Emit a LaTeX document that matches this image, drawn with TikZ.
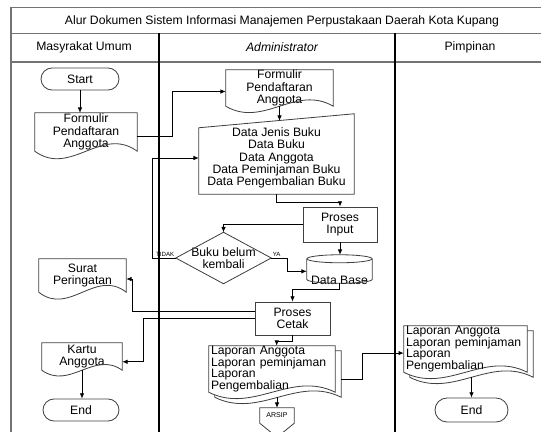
\documentclass[tikz,border=0pt]{standalone}
\usepackage{fontspec}
\setmainfont{Liberation Sans}
\usetikzlibrary{shapes.misc}
\usetikzlibrary{positioning}
\usetikzlibrary{arrows.meta}
\usetikzlibrary{calc}
\usetikzlibrary{backgrounds}
\newcommand{\pxu}{0.03cm}
% document outline: node, shift, wave
\newcommand{\docoutline}[3]{%
  ($(#1.north west)+(#2)$) -- ($(#1.north east)+(#2)$) -- ($(#1.south east)+(#2)$)
  .. controls ($(#1.south east)!0.35!(#1.south west)+(#2)+(0,-#3)$)
  and ($(#1.south east)!0.65!(#1.south west)+(#2)+(0,#3)$) .. ($(#1.south west)+(#2)$) -- cycle}
\tikzset{
    lanebox/.style = {draw=black!55, line width=1pt},
    lanediv/.style = {draw=black, line width=0.9pt},
    lanedivb/.style = {draw=black, line width=1.6pt},
    headfont/.style = {font=\fontsize{10.4}{12}\selectfont},
    shapeline/.style = {draw=black!75, line width=0.7pt},
    termnode/.style = {rounded rectangle, shapeline, inner sep=0pt, font=\fontsize{10.4}{10.5}\selectfont},
    procnode/.style = {rectangle, shapeline, inner sep=0pt, align=center, font=\fontsize{10.4}{10.5}\selectfont},
    docnode/.style = {rectangle, inner sep=0pt, align=center, font=\fontsize{10.4}{10.5}\selectfont},
    multidoc/.style = {rectangle, inner ysep=0pt, inner xsep=2*\pxu, align=left, font=\fontsize{10.4}{10}\selectfont},
    lbl/.style = {font=\fontsize{5.2}{6}\selectfont, inner sep=1pt},
    edgen/.style = {-{Latex[length=4.5pt,width=3.8pt]}, line width=0.7pt}
}
\begin{document}
\begin{tikzpicture}[x=\pxu, y=-\pxu]
  \useasboundingbox (0,0) rectangle (541,432);
  % frame and lanes
  \draw[lanebox] (11,432) -- (11,7.5) -- (541,7.5);
  \draw[lanebox] (11,33.5) -- (541,33.5);
  \draw[lanebox] (11,62) -- (541,62);
  \draw[lanediv] (159,33.5) -- (159,432);
  \draw[lanedivb] (395,33.5) -- (395,432);
  \node[headfont] (title) at (282,21) {Alur Dokumen Sistem Informasi Manajemen Perpustakaan Daerah Kota Kupang};
  \node[headfont] (hmu) at (84,47.5) {Masyrakat Umum};
  \node[headfont] (had) at (282,47.5) {\itshape Administrator};
  \node[headfont] (hpi) at (470,47.5) {Pimpinan};

  % Masyrakat Umum
  \node[termnode, minimum width=78*\pxu, minimum height=22*\pxu] (start) at (80,79) {Start};
  \node[docnode, minimum width=102*\pxu, minimum height=38*\pxu] (fm1) at (86,132) {Formulir\\Pendaftaran\\Anggota};
  \node[docnode, minimum width=87*\pxu, minimum height=33*\pxu] (surat) at (82.5,275.5) {Surat\\Peringatan};
  \node[docnode, minimum width=80*\pxu, minimum height=27*\pxu] (kartu) at (82,356.5) {Kartu\\Anggota};
  \node[termnode, minimum width=76*\pxu, minimum height=22*\pxu] (end1) at (81,410) {End};

  % Administrator
  \node[docnode, minimum width=107*\pxu, minimum height=36*\pxu] (fm2) at (279.5,88) {Formulir\\Pendaftaran\\Anggota};
  \node[docnode, minimum width=155*\pxu, minimum height=72*\pxu] (data) at (276.5,158)
    {Data Jenis Buku\\Data Buku\\Data Anggota\\Data Peminjaman Buku\\Data Pengembalian Buku};
  \node[procnode, minimum width=74*\pxu, minimum height=35*\pxu] (pin) at (340,224.5) {Proses\\Input};
  \node[docnode, minimum width=95*\pxu, minimum height=51*\pxu] (dec) at (223.5,258) {Buku belum\\kembali};
  \node[docnode, minimum width=65*\pxu, minimum height=28*\pxu,
        label={[docnode, anchor=south, inner sep=1pt, yshift=-2.5pt]south:Data Base}] (db) at (339.5,269) {};
  \node[procnode, minimum width=75*\pxu, minimum height=33*\pxu] (pct) at (292.5,318.5) {Proses\\Cetak};
  \node[multidoc, text width=122*\pxu, minimum height=40*\pxu] (lap2) at (272,369)
    {Laporan Anggota\\Laporan peminjaman\\Laporan\\Pengembalian};
  \node[docnode, minimum width=34*\pxu, minimum height=15*\pxu, font=\fontsize{6}{7}\selectfont] (arsip) at (277,415.5) {ARSIP};

  % Pimpinan
  \node[multidoc, text width=119*\pxu, minimum height=40*\pxu] (lap3) at (465.5,349)
    {Laporan Anggota\\Laporan peminjaman\\Laporan\\Pengembalian};
  \node[termnode, minimum width=73*\pxu, minimum height=24*\pxu] (end3) at (471.5,410) {End};

  % outlines
  \draw[shapeline] \docoutline{fm1}{0,0}{26};
  \draw[shapeline] \docoutline{surat}{0,0}{24};
  \draw[shapeline] \docoutline{kartu}{0,0}{20};
  \draw[shapeline] \docoutline{fm2}{0,0}{22};
  \draw[shapeline] (data.south west) -- ($(data.north west)+(0,6)$) -- ($(data.north east)+(0,-8)$) -- (data.south east) -- cycle;
  \draw[shapeline] (dec.north) -- (dec.east) -- (dec.south) -- (dec.west) -- cycle;
  \draw[shapeline] ($(db.north west)+(0,4)$) -- ($(db.south west)+(0,-4)$)
    .. controls +(0,5.33) and +(0,5.33) .. ($(db.south east)+(0,-4)$) -- ($(db.north east)+(0,4)$);
  \draw[shapeline] ($(db.north)+(0,4)$) ellipse [x radius=32.5, y radius=4];
  \draw[shapeline] (arsip.north west) -- (arsip.north east) -- (arsip.south east)
    -- ($(arsip.south)+(0,14)$) -- (arsip.south west) -- cycle;
  \begin{pgfonlayer}{background}
    \draw[shapeline, fill=white] \docoutline{lap2}{6,5}{22};
    \draw[shapeline, fill=white] \docoutline{lap2}{0,0}{22};
    \draw[shapeline, fill=white] \docoutline{lap3}{6,5}{22};
    \draw[shapeline, fill=white] \docoutline{lap3}{0,0}{22};
  \end{pgfonlayer}

  % connectors
  \draw[edgen] (start.south) -- (start.south |- fm1.north);
  \draw[edgen] ([yshift=-4pt]fm1.east) -- ++(35,0) |- ([yshift=-3pt]fm2.west);
  \draw[edgen] (fm2.south) -- ($(fm2.south |- data.north)+(0,-1)$);
  \draw[edgen] (data.south) -- ++(0,8) -| (pin.north);
  \draw[edgen] (pin.west) -| (dec.north);
  \draw[edgen] (pin.south) -- (pin.south |- db.north);
  \draw[edgen] (dec.east) node[lbl, anchor=south west] (ya) {YA} -- ++(16,0) |- ([yshift=-2pt]db.west);
  \draw[edgen] (dec.west) node[lbl, anchor=south east] (tidak) {TIDAK} -- ++(-23,0) |- (data.west);
  \draw[edgen] (db.south) -- ++(0,6) -| (pct.north);
  \draw[edgen] ([yshift=6pt]pct.west) -- ++(-122,0) |- ([yshift=-3pt]surat.east);
  \draw[edgen] (pct.west) -- ++(-111,0) |- ([yshift=-4.5pt]kartu.east);
  \draw[edgen] (kartu.south) -- (kartu.south |- end1.north);
  \draw[edgen] (pct.south) -- ++(0,6) -| ([xshift=4pt]lap2.north);
  \draw[edgen] ($(arsip.north |- lap2.south)+(0,5)$) -- (arsip.north);
  \draw[edgen] ($(lap2.east)+(6,10)$) -- ++(21,0) |- ([yshift=-3.5pt]lap3.west);
  \draw[edgen] ($(end3.north |- lap3.south)+(0,5)$) -- (end3.north);
\end{tikzpicture}
\end{document}
